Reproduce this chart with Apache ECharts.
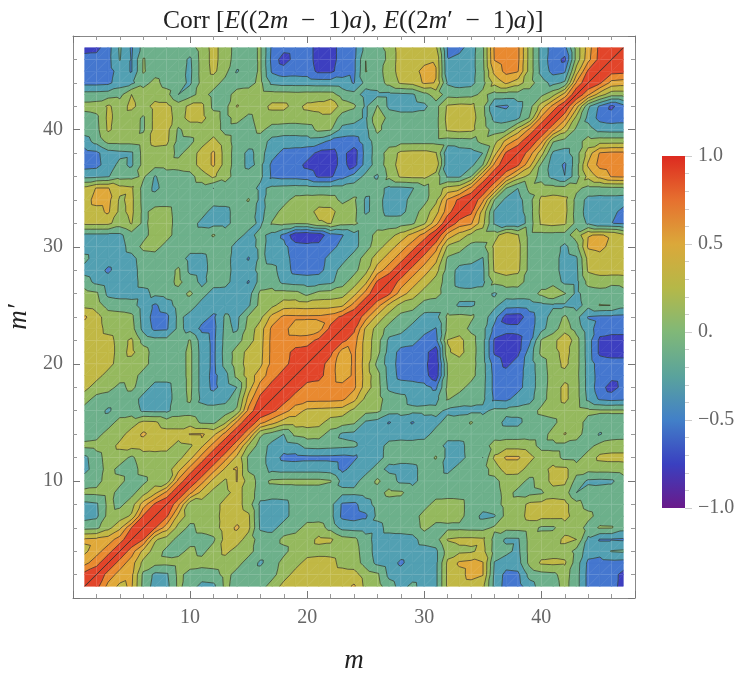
<!DOCTYPE html>
<html>
<head>
<meta charset="utf-8">
<title>Corr</title>
<style>
html, body { margin: 0; padding: 0; background: #fff; }
#main { width: 747px; height: 681px; }
</style>
<script src="https://cdn.jsdelivr.net/npm/echarts@6/dist/echarts.min.js"></script>
</head>
<body>
<div id="main"></div>
<script>
// correlation in tenths, lower triangle, first row is m'=2, one value per m < m'
var corrRows = [
[9],
[5,7],
[3,5,7],
[5,5,5,7],
[-1,-1,1,3,9],
[-3,-3,1,1,1,9],
[-3,-3,1,-1,1,5,9],
[1,1,1,-1,-1,1,3,7],
[-1,-1,1,1,-1,-1,1,-1,7],
[-3,-1,1,-1,-1,1,1,1,3,7],
[-3,-1,1,1,-1,1,1,1,1,3,7],
[1,1,1,3,3,3,3,3,1,1,3,7],
[-1,-1,1,1,3,5,3,3,3,5,5,3,7],
[-1,-1,-1,1,1,3,3,1,1,1,-1,-1,1,7],
[-1,-1,-3,-1,-1,-3,-3,-3,-1,-1,-1,-1,-1,-1,7],
[1,-1,-1,-1,-1,-3,-3,-3,-1,1,-3,-3,-3,-1,5,9],
[3,1,1,-1,1,-1,-3,-3,-1,1,-3,-5,-3,-3,3,7,9],
[3,3,1,1,1,-1,-1,-1,-1,1,-3,-5,-3,1,3,5,7,9],
[3,3,3,1,1,1,-1,-1,-1,1,-3,-5,-1,1,3,3,7,7,9],
[3,3,3,1,3,1,-1,-1,-1,1,-3,-5,-1,1,3,3,7,7,9,9],
[3,3,3,1,3,-1,-1,-1,-1,1,-3,-5,-1,-1,1,3,7,7,7,7,9],
[3,3,1,1,1,-3,-5,-5,-1,-3,-5,-5,-1,-3,1,3,7,7,4,4,4,9],
[5,3,1,1,1,-3,-5,-5,-1,-3,-3,-5,-1,-3,1,1,5,7,7,7,7,7,9],
[1,1,-1,-1,-1,-3,-5,-3,-1,-1,-3,-3,-3,-3,-3,1,1,3,3,3,3,3,3,7],
[1,1,-3,-3,-3,-3,-1,-1,-1,1,-1,-3,-3,-3,-3,1,1,1,1,-1,1,1,1,3,7],
[-1,-3,-3,-3,-3,-1,-1,-1,1,-1,-3,-1,-1,-3,-5,-1,-1,-3,-3,-3,-3,-3,-1,1,3,9],
[-3,-3,-5,-3,-3,-1,-1,-1,1,-3,-3,-1,-1,-3,-3,-1,-1,-3,-5,-5,-5,-3,-1,-1,1,5,7],
[-1,-3,-3,-3,-3,-1,-1,-1,-1,-3,-3,-1,-1,-3,-5,-1,-3,-3,-5,-5,-5,-3,-3,-1,1,3,5,7],
[-3,-3,-3,-3,-1,1,1,-1,-1,-1,-1,-1,-1,-3,-3,-1,-3,-3,-5,-5,-5,-5,-3,-3,-1,1,3,5,7],
[-3,-3,-3,-3,-1,-1,1,1,-1,-1,-1,1,-1,-1,-3,-1,-3,-5,-9,-9,-9,-5,-5,-3,-1,1,1,3,5,7],
[3,3,3,1,3,-1,1,1,-1,-1,-3,-3,-3,-1,-1,-3,1,1,1,1,3,3,1,1,-1,-1,-1,-1,-1,1,5],
[3,3,5,1,3,-1,1,1,-1,-1,-1,-3,-3,-1,-1,-3,-1,1,1,1,3,3,1,1,-3,-1,-3,-3,-1,1,3,7],
[3,5,5,1,3,-1,-1,-1,-1,-1,-1,-1,-1,-1,1,-3,-1,-1,1,1,1,1,-1,1,-3,-1,-3,-3,-1,-1,1,7,9],
[3,5,5,3,3,-1,-3,-1,-1,-1,-1,-3,-1,-1,-1,-3,-1,-1,-1,-1,-1,-1,-1,-1,-1,-1,-3,-3,-3,-1,1,3,3,7],
[-3,-3,-3,-1,-1,1,-3,-1,-1,-1,1,3,1,-1,-1,-1,-5,-5,-5,-5,-7,-7,-5,-3,-1,-3,1,3,3,3,1,-3,-3,-1,7],
[-5,-5,-3,-1,-3,1,1,1,1,1,3,5,1,-1,-3,-1,-5,-5,-5,-7,-7,-7,-5,-8,-3,-1,1,3,3,3,5,-5,-3,-3,-1,7],
[-5,-5,-3,-3,-3,1,1,1,-1,1,3,5,1,-1,-3,-1,-3,-5,-5,-5,-7,-7,-5,-8,-3,-1,1,3,3,3,3,-5,-3,-3,-3,3,9],
[-3,-1,1,1,1,1,3,3,-1,-1,1,3,1,-1,-1,-1,-3,-3,-3,-3,-3,-5,-5,-5,-3,-1,-1,-1,-1,-1,-1,-1,-1,-1,1,1,5,7],
[-1,-1,3,1,1,-1,3,3,-1,1,1,1,-1,-1,-1,1,-1,-1,-1,-1,1,1,-3,-3,-3,1,-1,-1,-1,-1,-1,3,3,3,1,-1,-1,3,7],
[-1,-1,3,1,1,-1,3,3,1,3,3,1,-1,1,-1,1,1,1,1,1,1,1,-1,-1,-3,3,-1,-1,-1,-1,-1,3,3,3,1,-3,-3,-3,-1,7],
[1,1,3,1,3,1,3,3,1,3,3,-1,-1,3,1,1,3,3,1,3,3,5,1,1,-3,1,-3,-3,-3,-3,-1,3,3,3,1,-5,-5,-3,-1,3,7],
[-1,-1,-1,-1,3,1,1,1,-3,-1,1,-1,-1,1,1,1,1,1,1,1,1,1,-1,-1,-3,-3,-3,-3,-3,-1,1,-1,-1,-1,1,-1,-1,-1,-1,-1,1,5],
[-5,-5,-5,-3,-3,-1,1,-1,-1,-3,1,1,-1,-1,-1,1,-3,-3,-3,-3,-3,-3,-3,-5,-1,-1,1,3,3,5,5,-3,-3,-3,-1,3,5,3,1,-1,-3,-3,7],
[-5,-5,-5,-3,-5,1,-1,-1,-1,-3,1,3,1,-3,-1,1,-5,-5,-5,-5,-7,-7,-5,-5,1,-1,1,3,3,5,5,-5,-3,-3,-1,5,7,7,1,-3,-5,-5,3,9],
[-5,-5,-5,-1,-5,1,-1,-1,-1,-3,1,3,1,-1,-1,1,-5,-8,-5,-5,-7,-7,-5,-5,1,-3,1,3,3,3,5,-5,-3,-3,-1,7,7,7,1,-3,-5,-8,1,5,9],
[-7,-7,-5,-1,-5,-1,-1,-1,-1,-1,1,3,1,-1,-1,1,-5,-5,-5,-5,-7,-7,-5,-5,-1,-1,1,3,3,3,3,-5,-5,-3,-1,7,7,7,1,-3,-5,-5,1,5,9,9]
];
var bandLevels = [-1, -0.8, -0.6, -0.4, -0.2, 0, 0.2, 0.4, 0.6, 0.8, 1];
var bandColors = ['#5a2aa8', '#3d3fc0', '#4577cf', '#52a0b2', '#6db08b', '#95b95e', '#c1b845', '#e0a93a', '#e98a30', '#e2452a'];
var lineLevels = [-0.8, -0.6, -0.4, -0.2, 0, 0.2, 0.4, 0.6, 0.8, 0.998];
var barTicks = [1, 0.5, 0, -0.5, -1];
var barTickLabels = ['1.0', '0.5', '0.', '\u22120.5', '\u22121.0'];
var barStops = [0, 0.125, 0.25, 0.375, 0.5, 0.625, 0.75, 0.875, 1];
var barColors = ['#dd2a20', '#e6702f', '#dba83a', '#b5b848', '#80b878', '#5aa39c', '#4280c8', '#3a40c0', '#6a1a8a'];

var size = corrRows.length + 1;
var raw = [];
for (var i = 0; i < size; i++) {
    raw.push([]);
    for (var j = 0; j < size; j++) {
        if (i === j) raw[i].push(1);
        else if (j < i) raw[i].push(corrRows[i - 1][j] / 10);
        else raw[i].push(corrRows[j - 1][i] / 10);
    }
}

// the values were read to one band only, soften the stair steps a little for the contours
var side = 0.09;
var corr = [];
for (var i = 0; i < size; i++) {
    corr.push([]);
    for (var j = 0; j < size; j++) {
        if (i === j) { corr[i].push(1); continue; }
        var sum = 0, total = 0;
        for (var di = -1; di <= 1; di++) {
            for (var dj = -1; dj <= 1; dj++) {
                if (!raw[i + di] || raw[i + di][j + dj] === undefined) continue;
                var w = (di ? side : 1 - 2 * side) * (dj ? side : 1 - 2 * side);
                sum += raw[i + di][j + dj] * w;
                total += w;
            }
        }
        corr[i].push(sum / total);
    }
}

// keep the part of a polygon on one side of a level
function clip(poly, level, keepAbove) {
    var out = [];
    for (var k = 0; k < poly.length; k++) {
        var a = poly[k], b = poly[(k + 1) % poly.length];
        var aIn = keepAbove ? a[2] >= level : a[2] <= level;
        var bIn = keepAbove ? b[2] >= level : b[2] <= level;
        if (aIn) out.push(a);
        if (aIn !== bIn) {
            var t = (level - a[2]) / (b[2] - a[2]);
            out.push([a[0] + (b[0] - a[0]) * t, a[1] + (b[1] - a[1]) * t, level]);
        }
    }
    return out;
}

function crossing(tri, level) {
    var pts = [];
    for (var k = 0; k < 3; k++) {
        var a = tri[k], b = tri[(k + 1) % 3];
        if ((a[2] >= level) !== (b[2] >= level)) {
            var t = (level - a[2]) / (b[2] - a[2]);
            pts.push([a[0] + (b[0] - a[0]) * t, a[1] + (b[1] - a[1]) * t]);
        }
    }
    return pts;
}

function renderContours(params, api) {
    var fills = [], lines = [], grid = [];
    function toPx(p) { return api.coord([p[0], p[1]]); }
    for (var r = 0; r < size - 1; r++) {
        for (var c = 0; c < size - 1; c++) {
            var p00 = [c + 1, r + 1, corr[r][c]];
            var p10 = [c + 2, r + 1, corr[r][c + 1]];
            var p01 = [c + 1, r + 2, corr[r + 1][c]];
            var p11 = [c + 2, r + 2, corr[r + 1][c + 1]];
            var tris = [[p00, p10, p11], [p00, p11, p01]];
            for (var t = 0; t < 2; t++) {
                for (var b = 0; b < bandColors.length; b++) {
                    var poly = clip(clip(tris[t], bandLevels[b], true), bandLevels[b + 1], false);
                    if (poly.length < 3) continue;
                    fills.push({
                        type: 'polygon',
                        shape: { points: poly.map(toPx) },
                        style: { fill: bandColors[b], stroke: bandColors[b], lineWidth: 0.6 },
                        silent: true
                    });
                }
                for (var l = 0; l < lineLevels.length; l++) {
                    var seg = crossing(tris[t], lineLevels[l]);
                    if (seg.length !== 2) continue;
                    var s0 = toPx(seg[0]), s1 = toPx(seg[1]);
                    lines.push({
                        type: 'line',
                        shape: { x1: s0[0], y1: s0[1], x2: s1[0], y2: s1[1] },
                        style: { stroke: 'rgba(45,50,45,0.7)', lineWidth: 1 },
                        silent: true
                    });
                }
            }
        }
    }
    // faint mesh over the fill
    for (var g = 2; g <= size; g += 2) {
        var v0 = api.coord([g, 1]), v1 = api.coord([g, size]);
        var h0 = api.coord([1, g]), h1 = api.coord([size, g]);
        grid.push({ type: 'line', shape: { x1: v0[0], y1: v0[1], x2: v1[0], y2: v1[1] }, style: { stroke: 'rgba(255,255,255,0.12)', lineWidth: 1 }, silent: true });
        grid.push({ type: 'line', shape: { x1: h0[0], y1: h0[1], x2: h1[0], y2: h1[1] }, style: { stroke: 'rgba(255,255,255,0.12)', lineWidth: 1 }, silent: true });
    }
    return { type: 'group', children: fills.concat(grid).concat(lines) };
}

function renderBar(params, api) {
    var top = api.coord([0, 1]), bottom = api.coord([1, -1]);
    var stops = barStops.map(function (s, i) { return { offset: s, color: barColors[i] }; });
    return {
        type: 'rect',
        shape: { x: top[0], y: top[1], width: bottom[0] - top[0], height: bottom[1] - top[1] },
        style: { fill: new echarts.graphic.LinearGradient(0, 0, 0, 1, stops) },
        silent: true
    };
}

function axisText(v) {
    return v > 0 && v < 48 && v % 10 === 0 ? String(v) : '';
}

function frameAxis(extra) {
    var base = {
        type: 'value', min: 0, max: 48, interval: 10, gridIndex: 0,
        axisLine: { show: true, onZero: false, lineStyle: { color: '#888', width: 1 } },
        axisTick: { show: true, inside: true, length: 7, lineStyle: { color: '#777' } },
        minorTick: { show: true, splitNumber: 5, length: 4, lineStyle: { color: '#999' } },
        splitLine: { show: false },
        axisLabel: { show: false }
    };
    return Object.assign(base, extra);
}

var labelFont = { fontFamily: 'Liberation Serif', fontSize: 20, color: '#666' };
var nameFont = { fontFamily: 'Liberation Serif', fontStyle: 'italic', fontWeight: 'normal', fontSize: 27, color: '#222' };
var rm = { fontFamily: 'Liberation Serif', fontSize: 25.5, fontWeight: 'normal', color: '#222' };
var it = { fontFamily: 'Liberation Serif', fontSize: 25.5, fontWeight: 'normal', fontStyle: 'italic', color: '#222' };

var myChart = echarts.init(document.getElementById('main'), null, { renderer: 'canvas' });
myChart.setOption({
    animation: false,
    backgroundColor: '#fff',
    title: {
        left: 158, top: 3,
        text: '{r|Corr [}{i|E}{r|((2}{i|m}{r|  \u2212  1)}{i|a}{r|), }{i|E}{r|((2}{i|m}{r|\u2032  \u2212  1)}{i|a}{r|)]}',
        textStyle: { rich: { r: rm, i: it } }
    },
    tooltip: { show: false },
    grid: [
        { left: 73, top: 36, width: 562, height: 562, show: false, outerBoundsMode: 'none' },
        { left: 662, top: 156, width: 23, height: 352, show: false, outerBoundsMode: 'none' }
    ],
    xAxis: [
        frameAxis({
            position: 'bottom',
            name: 'm', nameLocation: 'middle', nameGap: 49, nameTextStyle: nameFont,
            axisLabel: Object.assign({ show: true, margin: 10, formatter: axisText }, labelFont)
        }),
        frameAxis({ position: 'top' }),
        { type: 'value', gridIndex: 1, min: 0, max: 1, show: false }
    ],
    yAxis: [
        frameAxis({
            position: 'left',
            name: 'm\u2032', nameLocation: 'middle', nameGap: 26, nameTextStyle: nameFont,
            axisLabel: Object.assign({ show: true, margin: 10, formatter: axisText }, labelFont)
        }),
        frameAxis({ position: 'right' }),
        {
            type: 'value', gridIndex: 1, position: 'right', min: -1, max: 1, interval: 0.5,
            axisLine: { show: false, onZero: false },
            axisTick: { show: true, length: 7, lineStyle: { color: '#ccc' } },
            minorTick: { show: true, splitNumber: 5, length: 4, lineStyle: { color: '#ccc' } },
            splitLine: { show: false },
            axisLabel: Object.assign({
                show: true, margin: 13, align: 'left',
                formatter: function (v) {
                    var idx = barTicks.indexOf(v);
                    return idx < 0 ? '' : barTickLabels[idx];
                }
            }, labelFont)
        }
    ],
    series: [
        { type: 'custom', xAxisIndex: 0, yAxisIndex: 0, data: [[1, 1]], renderItem: renderContours, silent: true, clip: false },
        { type: 'custom', xAxisIndex: 2, yAxisIndex: 2, data: [[0, 0]], renderItem: renderBar, silent: true, clip: false }
    ]
});
</script>
</body>
</html>
